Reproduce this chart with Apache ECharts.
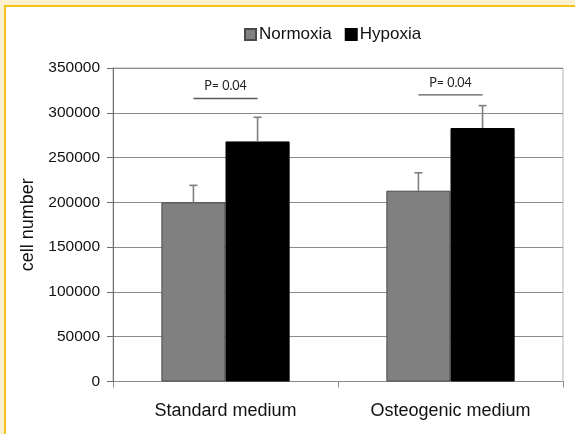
<!DOCTYPE html>
<html>
<head>
<meta charset="utf-8">
<script src="https://cdn.jsdelivr.net/npm/echarts@6/dist/echarts.min.js"></script>
<style>
  html, body { margin: 0; padding: 0; }
  body { width: 575px; height: 434px; background: #fdf0cf; position: relative; overflow: hidden; }
  #panel { position: absolute; left: 4px; top: 5px; right: 0; bottom: 0; background: #ffffff;
           border-top: 2px solid #f5c21b; border-left: 2px solid #f5c21b; }
  #chart { position: absolute; left: 0; top: 0; width: 575px; height: 434px; }
</style>
</head>
<body>
<div id="panel"></div>
<div id="chart"></div>
<script>
// Cell counts after culture, per medium and oxygen condition
const categories = ['Standard medium', 'Osteogenic medium'];
const seriesNames = ['Normoxia', 'Hypoxia'];
const normoxia = [200000, 213000];
const hypoxia = [268000, 283000];
// upper end of each error bar (mean + SD)
const normoxiaErrTop = [219000, 233000];
const hypoxiaErrTop = [295000, 308000];
// significance brackets between the two bars of each group
const pLevel = [316000, 320000];
const pLabels = ['P= 0.04', 'P= 0.04'];
const yTicks = [0, 50000, 100000, 150000, 200000, 250000, 300000, 350000];

const BAR_RATIO = 0.285;

const chart = echarts.init(document.getElementById('chart'), null, { renderer: 'canvas' });

function barCenter(api, idx, side) {
  const cx = api.coord([idx, 0])[0];
  const band = api.size([1, 0])[0];
  const w = band * BAR_RATIO;
  return cx + side * w / 2;
}

function errorRenderer(side) {
  return function (params, api) {
    const idx = api.value(0);
    const x = barCenter(api, idx, side);
    const yTop = api.coord([idx, api.value(1)])[1];
    const yErr = api.coord([idx, api.value(2)])[1];
    const style = { stroke: '#7f7f7f', lineWidth: 1.6 };
    return {
      type: 'group',
      children: [
        { type: 'line', shape: { x1: x, y1: yTop, x2: x, y2: yErr }, style: style },
        { type: 'line', shape: { x1: x - 4, y1: yErr, x2: x + 4, y2: yErr }, style: style }
      ]
    };
  };
}

const normErrData = categories.map((c, i) => [i, normoxia[i], normoxiaErrTop[i]]);
const hypErrData = categories.map((c, i) => [i, hypoxia[i], hypoxiaErrTop[i]]);
const pData = categories.map((c, i) => [i, pLevel[i]]);

const option = {
  animation: false,
  backgroundColor: 'transparent',
  textStyle: { fontFamily: 'Liberation Sans, Arial, sans-serif' },
  legend: {
    data: seriesNames,
    top: 21,
    left: 239,
    itemWidth: 11,
    itemHeight: 11,
    itemGap: 13,
    icon: 'rect',
    textStyle: { fontSize: 17, color: '#111', padding: [0, 0, 0, -2] }
  },
  grid: {
    left: 113, right: 12, top: 68, bottom: 52.5,
    show: true, borderColor: '#b4b4b4', borderWidth: 1, backgroundColor: '#ffffff'
  },
  xAxis: {
    type: 'category',
    data: categories,
    axisLine: { lineStyle: { color: '#8a8a8a', width: 1 } },
    axisTick: { show: true, alignWithLabel: false, length: 6, lineStyle: { color: '#8a8a8a' } },
    axisLabel: { fontSize: 18, color: '#111', margin: 21 }
  },
  yAxis: {
    type: 'value',
    min: 0,
    max: yTicks[yTicks.length - 1],
    interval: yTicks[1] - yTicks[0],
    name: 'cell number',
    nameLocation: 'middle',
    nameGap: 66,
    nameTextStyle: { fontSize: 18, color: '#111' },
    axisLine: { show: true, lineStyle: { color: '#6e6e6e', width: 1 } },
    axisTick: { show: true, length: 6, lineStyle: { color: '#6e6e6e' } },
    axisLabel: { fontSize: 15.5, color: '#111', margin: 13, formatter: v => String(v) },
    splitLine: { lineStyle: { color: '#8c8c8c', width: 1 } }
  },
  series: [
    {
      name: seriesNames[0],
      type: 'bar',
      data: normoxia,
      barWidth: (BAR_RATIO * 100) + '%',
      barGap: '0%',
      itemStyle: { color: '#808080', borderColor: '#4a4a4a', borderWidth: 1 }
    },
    {
      name: seriesNames[1],
      type: 'bar',
      data: hypoxia,
      barWidth: (BAR_RATIO * 100) + '%',
      barGap: '0%',
      itemStyle: { color: '#000000', borderColor: '#000000', borderWidth: 1 }
    },
    {
      type: 'custom',
      name: 'normoxia-sd',
      data: normErrData,
      encode: { x: 0, y: 2 },
      renderItem: errorRenderer(-1),
      z: 5,
      silent: true
    },
    {
      type: 'custom',
      name: 'hypoxia-sd',
      data: hypErrData,
      encode: { x: 0, y: 2 },
      renderItem: errorRenderer(1),
      z: 5,
      silent: true
    },
    {
      type: 'custom',
      name: 'p-value',
      data: pData,
      encode: { x: 0, y: 1 },
      z: 6,
      silent: true,
      renderItem: function (params, api) {
        const idx = api.value(0);
        const x1 = barCenter(api, idx, -1);
        const x2 = barCenter(api, idx, 1);
        const y = api.coord([idx, api.value(1)])[1];
        return {
          type: 'group',
          children: [
            { type: 'line', shape: { x1: x1, y1: y, x2: x2, y2: y },
              style: { stroke: '#5a5a5a', lineWidth: 1.4 } },
            { type: 'text', x: (x1 + x2) / 2, y: y - 12,
              style: { text: pLabels[idx], fill: '#222', font: '12.5px Lato, sans-serif',
                       align: 'center', verticalAlign: 'middle' } }
          ]
        };
      }
    }
  ]
};

chart.setOption(option);
</script>
</body>
</html>
